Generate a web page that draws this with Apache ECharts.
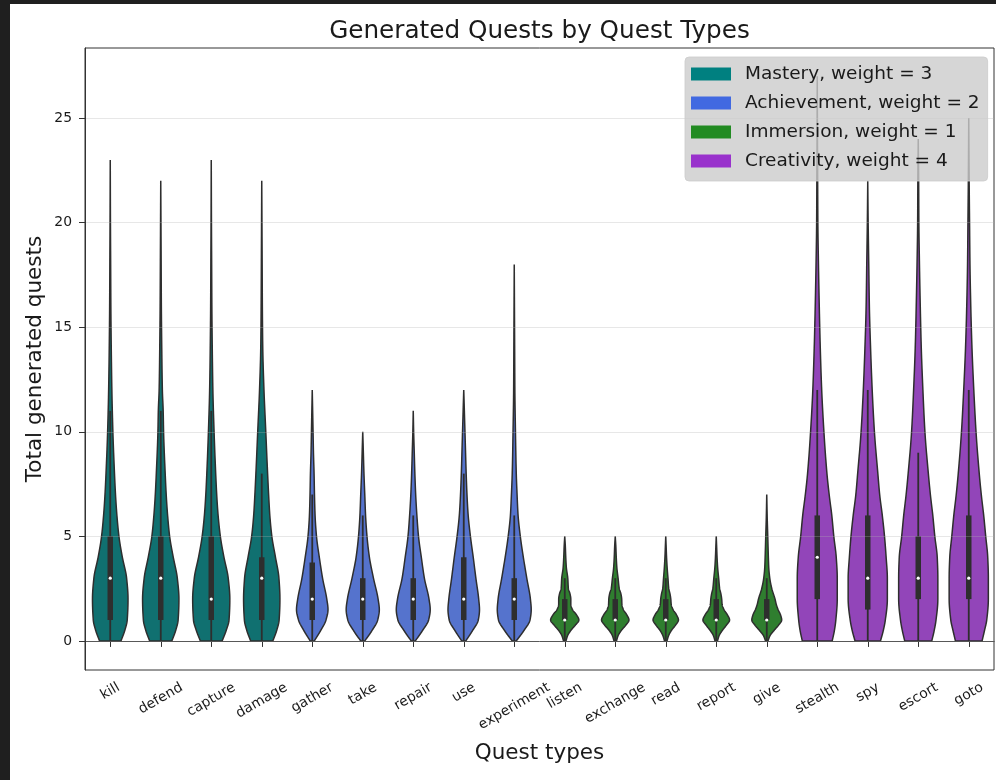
<!DOCTYPE html>
<html><head><meta charset="utf-8">
<script src="https://cdn.jsdelivr.net/npm/echarts@6/dist/echarts.min.js"></script>
<style>
html,body{margin:0;padding:0;background:#1f1f1f;width:996px;height:780px;overflow:hidden}
#chart{position:absolute;left:10px;top:4px;width:986px;height:776px;background:#fff}
</style></head><body><div id="chart"></div>
<script>
const categories = ['kill','defend','capture','damage','gather','take','repair','use','experiment','listen','exchange','read','report','give','stealth','spy','escort','goto'];
const groupNames = ['Mastery, weight = 3','Achievement, weight = 2','Immersion, weight = 1','Creativity, weight = 4'];
const groupOf = [0,0,0,0,1,1,1,1,1,2,2,2,2,2,3,3,3,3];
const legendColors = ['#008080','#4169E1','#228B22','#9932CC'];
const fillColors = ['#107070','#5573CD','#2F7E2F','#9245B9'];
const yTicks = [0,5,10,15,20,25];

// box statistics
const maxVals   = [23,22,23,22,12,10,11,12,18,5,5,5,5,7,27,22,24,25];
const q1Vals    = [1,1,1,1,1,1,1,1,1,1,1,1,1,1,2,1.5,2,2];
const medVals   = [3,3,2,3,2,2,2,2,2,1,1,1,1,1,4,3,3,3];
const q3Vals    = [5,5,5,4,3.75,3,3,4,3,2,2,2,2,2,6,6,5,6];
const whiskerHi = [11,11,11,8,7,6,6,8,6,3,3,3,3,3,12,12,9,12];

// violin outlines: [value, relative half-width in % of the widest allowed]
const violinShapes = [
  [[0,53],[0.5,72],[1,84],[2,88],[3,81],[4,60],[5,43],[6,33],[7,26],[8,21],[10,13],[12,8],[14,5],[16,3],[18,2],[20,1],[23,0]],
  [[0,55],[0.5,74],[1,86],[2,90],[3,82],[4,62],[5,44],[6,34],[7,27],[8,22],[10,14],[11,12],[12,8],[14,5],[16,3],[18,2],[20,1],[22,0]],
  [[0,54],[0.5,74],[1,88],[2,92],[3,84],[4,63],[5,45],[6,34],[7,27],[8,22],[10,14],[12,8],[14,5],[16,3],[18,2],[20,1],[23,0]],
  [[0,55],[0.5,74],[1,86],[2,90],[3,85],[4,68],[5,50],[6,40],[7,34],[8,29],[10,20],[12,11],[14,5],[16,3],[18,2],[20,1],[22,0]],
  [[0,10],[0.5,42],[1,68],[1.5,78],[2,72],[3,51],[4,35],[5,21],[6,14],[7,11],[8,9],[9,6],[10,4],[11,2],[12,0]],
  [[0,10],[0.5,46],[1,74],[1.5,82],[2,76],[3,53],[4,33],[5,21],[6,14],[7,10],[8,6],[9,3],[10,0]],
  [[0,10],[0.5,46],[1,76],[1.5,84],[2,78],[3,55],[4,40],[5,26],[6,18],[7,12],[8,8],[9,5],[10,2],[11,0]],
  [[0,10],[0.5,44],[1,72],[1.5,78],[2,74],[3,60],[4,47],[5,33],[6,22],[7,16],[8,12],[9,9],[10,6],[11,3],[12,0]],
  [[0,10],[0.5,48],[1,78],[1.5,84],[2,80],[3,62],[4,45],[5,30],[6,19],[7,14],[8,10],[10,6],[12,3],[14,2],[16,1],[18,0]],
  [[0,6],[0.25,14],[0.5,30],[0.75,52],[1,70],[1.25,58],[1.5,38],[1.75,30],[2,30],[2.25,26],[2.5,18],[3,15],[3.5,8],[4,5],[4.5,3],[5,0]],
  [[0,6],[0.25,14],[0.5,30],[0.75,52],[1,68],[1.25,57],[1.5,40],[1.75,33],[2,32],[2.25,28],[2.5,20],[3,14],[3.5,8],[4,5],[4.5,3],[5,0]],
  [[0,6],[0.25,14],[0.5,28],[0.75,48],[1,63],[1.25,53],[1.5,36],[1.75,27],[2,25],[2.25,21],[2.5,15],[3,11],[3.5,7],[4,4],[4.5,2],[5,0]],
  [[0,6],[0.25,14],[0.5,30],[0.75,50],[1,66],[1.25,55],[1.5,38],[1.75,29],[2,27],[2.25,23],[2.5,17],[3,12],[3.5,7],[4,4],[4.5,2],[5,0]],
  [[0,6],[0.25,16],[0.5,36],[0.75,58],[1,74],[1.25,68],[1.5,56],[1.75,47],[2,41],[2.5,25],[3,15],[3.5,10],[4,8],[5,5],[6,2],[7,0]],
  [[0,74],[0.5,85],[1,92],[2,99],[3,99],[4,94],[5,82],[6,72],[7,59],[8,48],[10,33],[12,22],[14,15],[16,10],[18,6],[20,3],[22,2],[24,1],[27,0]],
  [[0,63],[0.5,77],[1,87],[2,97],[3,97],[4,91],[5,83],[6,72],[7,59],[8,50],[10,33],[12,22],[14,14],[16,8],[18,5],[20,2],[22,0]],
  [[0,67],[0.5,79],[1,88],[2,97],[3,97],[4,94],[5,82],[6,72],[7,60],[8,50],[10,33],[12,23],[14,15],[16,10],[18,6],[20,3],[22,2],[24,0]],
  [[0,66],[0.5,78],[1,89],[2,97],[3,97],[4,94],[5,84],[6,74],[7,62],[8,52],[10,36],[12,25],[14,16],[16,10],[18,6],[20,4],[22,2],[25,0]]
];

const FONT = 'DejaVu Sans';
const TEXT = '#1a1a1a';
const GRAY = '#2e2e2e';

function monotoneSample(xs, ys, n) {
  const m = xs.length, out = [], h = [], s = [];
  for (let i = 0; i < m - 1; i++) { h[i] = xs[i+1] - xs[i]; s[i] = (ys[i+1] - ys[i]) / h[i]; }
  const t = new Array(m);
  t[0] = s[0]; t[m-1] = s[m-2];
  for (let i = 1; i < m - 1; i++) {
    if (s[i-1] * s[i] <= 0) t[i] = 0;
    else { const w1 = 2*h[i] + h[i-1], w2 = h[i] + 2*h[i-1]; t[i] = (w1 + w2) / (w1 / s[i-1] + w2 / s[i]); }
  }
  for (let i = 0; i < m - 1; i++) {
    for (let k = 0; k < n; k++) {
      const u = k / n, u2 = u*u, u3 = u2*u;
      const y = (2*u3 - 3*u2 + 1)*ys[i] + (u3 - 2*u2 + u)*h[i]*t[i] + (-2*u3 + 3*u2)*ys[i+1] + (u3 - u2)*h[i]*t[i+1];
      out.push([xs[i] + u*h[i], Math.max(0, y)]);
    }
  }
  out.push([xs[m-1], ys[m-1]]);
  return out;
}

function renderViolin(params, api) {
  const idx = api.value(0);
  const shape = violinShapes[idx];
  const band = api.size([1, 0])[0];
  const halfMax = band * 0.4;
  const cx = api.coord([idx, 0])[0];
  const dense = monotoneSample(shape.map(p => p[0]), shape.map(p => p[1]), 12);
  const right = dense.map(([v, d]) => [cx + d / 100 * halfMax, api.coord([idx, v])[1]]);
  const left = dense.slice().reverse().map(([v, d]) => [cx - d / 100 * halfMax, api.coord([idx, v])[1]]);
  const pts = right.concat(left);
  const y = v => api.coord([idx, v])[1];
  return {
    type: 'group',
    children: [
      { type: 'polygon', shape: { points: pts }, style: { fill: fillColors[groupOf[idx]], stroke: GRAY, lineWidth: 1.5 } },
      { type: 'line', shape: { x1: cx, y1: y(0), x2: cx, y2: y(whiskerHi[idx]) }, style: { stroke: GRAY, lineWidth: 1.8 } },
      { type: 'line', shape: { x1: cx, y1: y(q1Vals[idx]), x2: cx, y2: y(q3Vals[idx]) }, style: { stroke: GRAY, lineWidth: 5.5, lineCap: 'butt' } },
      { type: 'circle', shape: { cx: cx, cy: y(medVals[idx]), r: 1.6 }, style: { fill: '#ffffff' } }
    ]
  };
}

// x labels centred under their ticks like matplotlib's rotated labels
const meas = document.createElement('canvas').getContext('2d');
meas.font = '13.9px "DejaVu Sans"';
const xLabelData = categories.map(c => {
  const w = meas.measureText(c).width;
  const d = 0.25 * w + 0.433 * 15;
  return { value: c, textStyle: { align: 'center', verticalAlign: 'top', lineHeight: 16, padding: [0.866 * d - 8, d, 0, 0] } };
});

const chart = echarts.init(document.getElementById('chart'), null, { renderer: 'canvas' });
chart.setOption({
  animation: false,
  backgroundColor: '#ffffff',
  textStyle: { fontFamily: FONT },
  title: {
    text: 'Generated Quests by Quest Types', left: 524.5, top: 10, textAlign: 'center',
    textStyle: { fontSize: 24.7, fontWeight: 'normal', color: TEXT, fontFamily: FONT }
  },
  legend: {
    orient: 'vertical', left: 675, top: 53,
    data: groupNames,
    icon: 'rect', itemWidth: 40, itemHeight: 13, itemGap: 9,
    padding: [7, 8, 10, 6],
    backgroundColor: 'rgba(204,204,204,0.8)', borderColor: 'rgba(204,204,204,0.8)', borderWidth: 1, borderRadius: 4,
    itemStyle: { borderWidth: 0 },
    textStyle: { fontSize: 18.5, color: TEXT, fontFamily: FONT, lineHeight: 20, padding: [0, 0, 0, 9] },
    selectedMode: false
  },
  grid: { left: 75, right: 2, top: 44, bottom: 110, show: true, borderColor: '#333', borderWidth: 1, outerBoundsMode: 'none' },
  xAxis: {
    type: 'category', data: xLabelData, boundaryGap: true,
    axisLine: { show: true, lineStyle: { color: '#333', width: 1 } },
    axisTick: { show: true, alignWithLabel: true, interval: 0, length: 6, lineStyle: { color: '#333' } },
    axisLabel: { interval: 0, rotate: 30, align: 'center', verticalAlign: 'top', lineHeight: 16, margin: 10, fontSize: 13.9, color: TEXT, fontFamily: FONT },
    splitLine: { show: false },
    name: 'Quest types', nameLocation: 'middle', nameGap: 72, nameMoveOverlap: false,
    nameTextStyle: { fontSize: 21.5, color: TEXT, fontFamily: FONT }
  },
  yAxis: {
    type: 'value', min: -1.39, max: 28.35, z: 3,
    axisLine: { show: true, lineStyle: { color: '#333', width: 1 } },
    axisTick: { show: true, length: 6, lineStyle: { color: '#333' }, customValues: yTicks },
    axisLabel: { customValues: yTicks, margin: 13, fontSize: 13.9, color: TEXT, fontFamily: FONT },
    splitLine: { show: true, lineStyle: { color: 'rgba(176,176,176,0.3)', width: 1 } },
    name: 'Total generated quests', nameLocation: 'middle', nameGap: 39, nameMoveOverlap: false,
    nameTextStyle: { fontSize: 21.5, color: TEXT, fontFamily: FONT }
  },
  series: groupNames.map((name, g) => ({
    type: 'custom', name: name, renderItem: renderViolin, silent: true,
    coordinateSystem: 'cartesian2d', z: 2,
    itemStyle: { color: legendColors[g] },
    encode: { x: 0, y: 1 },
    data: categories.map((c, i) => i).filter(i => groupOf[i] === g).map(i => [i, maxVals[i]])
  }))
});
</script>
</body></html>
